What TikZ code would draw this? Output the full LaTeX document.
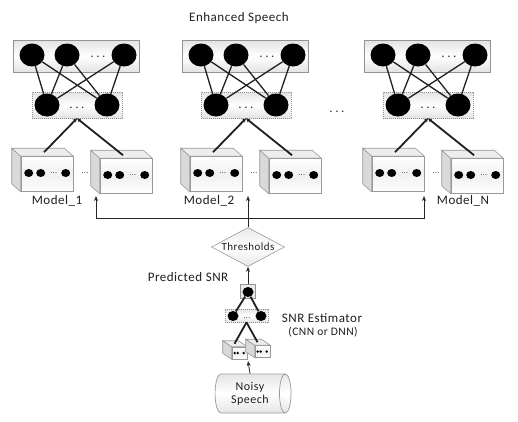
\documentclass[tikz,border=0pt]{standalone}
\usepackage{fontspec}
\setmainfont{Carlito}[LetterSpace=4]
\usetikzlibrary{shapes.geometric,calc,arrows.meta}
\newcommand{\ddd}{.\hspace{2.6pt}.\hspace{2.6pt}.}
\tikzset{
  box/.style={rectangle, draw=gray!85, line width=0.7pt, top color=gray!22, bottom color=gray!22, middle color=white, inner sep=0pt},
  dbox/.style={rectangle, draw=gray!85, line width=0.7pt, dash pattern=on 1.2pt off 0.8pt, top color=gray!22, bottom color=gray!22, middle color=white, inner sep=0pt},
  neuron/.style={ellipse, fill=black, inner sep=0pt, minimum width=25, minimum height=23},
  sneuron/.style={ellipse, fill=black, inner sep=0pt, minimum width=11, minimum height=10},
  wire/.style={draw=gray!25!black, line width=1.3pt},
  feed/.style={draw=gray!25!black, line width=1.8pt, -{Stealth[length=4pt,width=4pt]}},
  sfeed/.style={draw=gray!25!black, line width=1.8pt},
  arr/.style={draw=gray!30!black, line width=0.8pt, -{Stealth[length=5pt,width=4pt]}},
  lbl/.style={font=\fontsize{13}{15}\selectfont, text=black!88, inner sep=0pt},
  dots/.style={font=\fontsize{13}{15}\selectfont, text=black!80, inner sep=0pt},
  tinydots/.style={font=\fontsize{8}{8}\selectfont, text=black!80, inner sep=0pt},
  cubefront/.style={rectangle, draw=gray!80, line width=0.6pt, top color=white, bottom color=white, middle color=gray!12, inner sep=0pt},
  cubeside/.style={draw=gray!80, line width=0.6pt, fill=gray!30},
  cubetop/.style={draw=gray!80, line width=0.6pt, fill=gray!14},
}
\newcommand{\drawcube}[7]{%
  \node[cubefront, minimum width=#4, minimum height=#5] (#1) at (#2,#3) {};
  \filldraw[cubeside] (#1.north west) -- ++(-#6,-#7) -- ($(#1.south west)+(-#6,-#7)$) -- (#1.south west) -- cycle;
  \filldraw[cubetop] (#1.north west) -- ++(-#6,-#7) -- ($(#1.north east)+(-#6,-#7)$) -- (#1.north east) -- cycle;
}
\newcommand{\bigcube}[3]{%
  \drawcube{#1}{#2}{#3}{52}{35}{9}{8}
  \fill ($(#1.west)+(8,-1)$) ellipse [x radius=4.5, y radius=4];
  \fill ($(#1.west)+(20,-1)$) ellipse [x radius=4.5, y radius=4];
  \fill ($(#1.west)+(45,-1)$) ellipse [x radius=4.5, y radius=4];
  \node[tinydots] (#1d) at ($(#1.west)+(33,-1)$) {...};
}
\newcommand{\smallcube}[3]{%
  \drawcube{#1}{#2}{#3}{15}{12}{9}{6}
  \fill ($(#1.west)+(3,0)$) circle [radius=1.3];
  \fill ($(#1.west)+(6,0)$) circle [radius=1.3];
  \fill ($(#1.west)+(12,0)$) circle [radius=1.3];
}
\begin{document}
\begin{tikzpicture}[x=1pt,y=-1pt]
\useasboundingbox (0,0) rectangle (518,421);
\fill[white] (0,0) rectangle (518,421);

\node[lbl] (title) at (239,18) {Enhanced Speech};

\foreach \ox/\i in {0/1,169/2,351/3}{
  \node[box, minimum width=126, minimum height=32] (top\i) at (\ox+76,56) {};
  \node[neuron] (ta\i) at (\ox+32,55) {};
  \node[neuron] (tb\i) at (\ox+67,55) {};
  \node[neuron] (tc\i) at (\ox+124,55) {};
  \node[dots] (td\i) at (\ox+98,57) {\ddd};
  \node[dbox, minimum width=90, minimum height=26] (mid\i) at (\ox+77,105) {};
  \node[neuron] (ma\i) at (\ox+47,105) {};
  \node[neuron] (mb\i) at (\ox+107,105) {};
  \node[dots] (md\i) at (\ox+77,108) {\ddd};
  \foreach \p in {ta,tb,tc}{\foreach \q in {ma,mb}{\draw[wire] (\p\i) -- (\q\i);}}
  \bigcube{ca\i}{\ox+47}{174}
  \bigcube{cb\i}{\ox+126}{176}
  \node[tinydots] (cd\i) at (\ox+85,173) {...};
  \draw[feed] ($(ca\i.north)+(-3,-4)$) -- (mid\i.south);
  \draw[feed] ($(cb\i.north)+(-3,-3)$) -- (mid\i.south);
}
\node[dots] (gap) at (337,112) {\ddd};

\node[lbl] (lab1) at (57,201) {Model\_1};
\node[lbl] (lab2) at (209,201) {Model\_2};
\node[lbl] (lab3) at (463,201) {Model\_N};

\coordinate (u1) at (96,196);
\coordinate (u2) at (248,196);
\coordinate (u3) at (424,196);
\coordinate (br) at (248,218);

\node[diamond, draw=gray!80, line width=0.6pt, top color=gray!18, bottom color=gray!18, middle color=white,
      aspect=2, minimum width=73, minimum height=39, inner sep=0.5pt,
      font=\fontsize{11}{12}\selectfont, text=black!88] (thr) at (248,247) {Thresholds};
\draw[arr] (thr.north) -- (u2);
\draw[arr] (br) -| (u1);
\draw[arr] (br) -| (u3);

\node[lbl] (pred) at (188,277) {Predicted SNR};
\node[rectangle, draw=gray!85, line width=0.6pt, fill=gray!18, minimum width=15, minimum height=14, inner sep=0pt] (so) at (248,291) {};
\node[sneuron] (soc) at (248,292) {};
\draw[arr] (so.north) -- (thr.south);

\node[dbox, minimum width=43, minimum height=13] (eb) at (246.5,315.5) {};
\node[sneuron] (e1) at (233,316) {};
\node[sneuron] (e2) at (261,316) {};
\node[tinydots] (ed) at (247,318) {...};
\draw[sfeed] (soc) -- (e1);
\draw[sfeed] (soc) -- (e2);

\node[lbl] (est) at (322,318) {SNR Estimator};
\node[font=\fontsize{11.5}{13}\selectfont, text=black!88, inner sep=0pt] (estb) at (323,332) {(CNN or DNN)};

\smallcube{sa}{239.5}{353}
\smallcube{sb}{262.5}{351.5}
\draw[sfeed] ($(sa.north)+(-5,-3)$) -- (eb.south);
\draw[sfeed] ($(sb.north)+(-5,-3)$) -- (eb.south);
\coordinate (sbot) at (248,361);

\node[cylinder, draw=gray!80, line width=0.7pt, shape border rotate=0, aspect=0.5,
      minimum width=39, minimum height=76, inner sep=0pt,
      top color=gray!20, bottom color=gray!20, middle color=white,
      align=center, font=\fontsize{12}{13}\selectfont, text=black!88] (cyl) at (250,393.5) {Noisy\\Speech};
\draw[arr] (cyl.north) -- (sbot);
\end{tikzpicture}
\end{document}
